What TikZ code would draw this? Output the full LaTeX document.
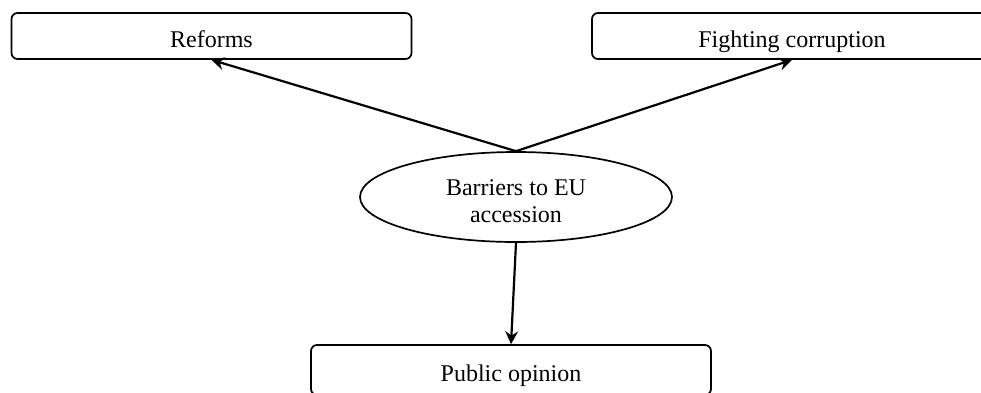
\documentclass[tikz,border=0pt]{standalone}
\usepackage{fontspec}
\setmainfont{Liberation Serif}
\usetikzlibrary{shapes.geometric,arrows.meta}
\begin{document}
\begin{tikzpicture}[x=1pt,y=-1pt,
  font=\fontsize{24}{27}\selectfont,
  boxnode/.style={draw, line width=1.7pt, rounded corners=6pt, minimum width=400pt, minimum height=46pt, inner sep=0pt, text height=24pt, text depth=2pt, anchor=center},
  ovalnode/.style={draw, ellipse, line width=1.7pt, minimum width=312pt, minimum height=90pt, inner sep=0pt, align=center, text height=50pt, text depth=0pt},
  conn/.style={line width=2.2pt, -{Stealth[length=13pt,width=13pt,inset=4.5pt]}}
]
\useasboundingbox (0,0) rectangle (981,392);
\clip (0,0) rectangle (981,392);
\node[boxnode] (reforms) at (211.5,36) {Reforms};
\node[boxnode] (fighting) at (792,36) {Fighting corruption};
\node[boxnode, minimum height=50pt] (public) at (511,370) {Public opinion};
\node[ovalnode] (barriers) at (516,197) {Barriers to EU\\accession};
\draw[conn] (barriers.north) -- (reforms.south);
\draw[conn] (barriers.north) -- (fighting.south);
\draw[conn] (barriers.south) -- (public.north);
\end{tikzpicture}
\end{document}
